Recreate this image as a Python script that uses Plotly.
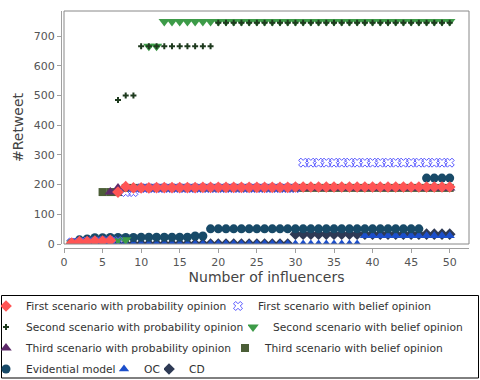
import plotly.graph_objects as go

# ─── Data ───────────────────────────────────────────────────────────────────
INFLUENCERS = list(range(1, 51))

FIRST_PROB = [3, 8, 8, 10, 10, 12, 175, 193, 189, 189,
              189, 190, 190, 190, 190, 190, 190, 191, 191, 191,
              191, 191, 191, 191, 191, 191, 191, 191, 191, 192,
              192, 192, 192, 192, 192, 192, 192, 192, 192, 192,
              192, 192, 192, 192, 192, 192, 192, 192, 192, 192]
FIRST_BELIEF = [5, 6, 8, 9, 10, 10, 10, 175, 175, 188,
                188, 188, 188, 188, 188, 188, 188, 188, 188, 188,
                188, 188, 188, 188, 188, 188, 188, 188, 188, 188,
                274, 274, 274, 274, 274, 274, 274, 274, 274, 274,
                274, 274, 274, 274, 274, 274, 274, 274, 274, 274]
SECOND_PROB = [4, 7, 9, 12, 14, 15, 485, 500, 500, 666,
               666, 666, 666, 666, 666, 666, 666, 666, 666, 745,
               745, 745, 745, 745, 745, 745, 745, 745, 745, 745,
               745, 745, 745, 745, 745, 745, 745, 745, 745, 745,
               745, 745, 745, 745, 745, 745, 745, 745, 745, 745]
SECOND_BELIEF = [3, 6, 8, 10, 11, 12, 13, 14, 189, 189,
                 666, 666, 750, 750, 750, 750, 750, 750, 750, 750,
                 750, 750, 750, 750, 750, 750, 750, 750, 750, 750,
                 750, 750, 750, 750, 750, 750, 750, 750, 750, 750,
                 750, 750, 750, 750, 750, 750, 750, 750, 750, 750]
THIRD_PROB = [2, 5, 7, 9, 11, 175, 189, 189, 189, 189,
              189, 189, 189, 189, 189, 189, 189, 189, 189, 189,
              189, 189, 189, 189, 189, 189, 189, 189, 189, 189,
              189, 189, 189, 189, 189, 189, 189, 189, 189, 189,
              189, 189, 189, 189, 189, 189, 189, 189, 189, 189]
THIRD_BELIEF = [2, 5, 7, 9, 175, 175, 175, 189, 189, 189,
                189, 189, 189, 189, 189, 189, 189, 189, 189, 189,
                189, 189, 189, 189, 189, 189, 189, 189, 189, 189,
                189, 189, 189, 189, 189, 189, 189, 189, 189, 189,
                189, 189, 189, 189, 189, 189, 189, 189, 189, 189]
EVIDENTIAL = [4, 14, 17, 21, 21, 22, 22, 22, 22, 23,
              23, 23, 23, 23, 23, 23, 27, 27, 51, 51,
              51, 51, 51, 51, 51, 51, 51, 51, 51, 51,
              51, 51, 51, 51, 51, 51, 51, 51, 51, 51,
              51, 51, 51, 51, 51, 51, 222, 222, 222, 222]
OC = [0, 0, 0, 0, 0, 0, 0, 0, 0, 0,
      0, 0, 0, 0, 0, 0, 0, 0, 0, 0,
      0, 0, 0, 0, 0, 0, 0, 0, 0, 0,
      0, 0, 0, 0, 0, 0, 0, 0, 28, 28,
      28, 28, 28, 28, 28, 28, 28, 28, 28, 28]
CD = [0, 0, 0, 0, 0, 0, 0, 0, 0, 0,
      0, 0, 0, 0, 0, 0, 0, 0, 0, 0,
      0, 0, 0, 0, 0, 0, 0, 0, 0, 33,
      33, 33, 33, 33, 33, 33, 33, 33, 33, 33,
      33, 33, 33, 33, 33, 33, 33, 33, 33, 33]

X_TICKS = [0, 5, 10, 15, 20, 25, 30, 35, 40, 45, 50]
Y_TICKS = [0, 100, 200, 300, 400, 500, 600, 700]

# ─── Page geometry (pixels) ────────────────────────────────────────────────
W, H = 480, 380
M_L, M_R, M_T, M_B = 61, 11, 11, 132
PW, PH = W - M_L - M_R, H - M_T - M_B
FONT = "DejaVu Sans, Verdana, sans-serif"


def px_x(px):
    return (px - M_L) / PW


def px_y(py):
    return (H - M_B - py) / PH


# name, values, symbol, size, colour, legend spot (symbol x, row y)
SERIES = [
    ("First scenario with probability opinion", FIRST_PROB, "diamond", 9, "#FF5555", (5, 306)),
    ("First scenario with belief opinion", FIRST_BELIEF, "x-open", 8, "#5555FF", (237, 306)),
    ("Second scenario with probability opinion", SECOND_PROB, "cross", 5, "#1E3A1E", (5, 327)),
    ("Second scenario with belief opinion", SECOND_BELIEF, "triangle-down", 10, "#3D9B48", (252, 327)),
    ("Third scenario with probability opinion", THIRD_PROB, "triangle-up", 10, "#5E2A6A", (5, 348)),
    ("Third scenario with belief opinion", THIRD_BELIEF, "square", 8, "#4B5E37", (244, 348)),
    ("Evidential model", EVIDENTIAL, "circle", 9, "#184A68", (5, 369)),
    ("OC", OC, "triangle-up", 9, "#1C4FCB", (123, 369)),
    ("CD", CD, "diamond", 9, "#2E3A55", (168, 369)),
]

fig = go.Figure()
legends = {}
# first series is painted last (sits on top), as in the original
for i in reversed(range(len(SERIES))):
    name, vals, sym, size, col, (lx, ly) = SERIES[i]
    lname = "legend" if i == 0 else f"legend{i + 1}"
    fig.add_trace(go.Scatter(
        x=INFLUENCERS, y=vals, name=name, mode="markers",
        marker=dict(symbol=sym, size=size, color=col,
                    line=dict(width=1 if sym.endswith("open") else 0, color=col)),
        legend=lname,
    ))
    legends[lname] = dict(
        x=px_x(lx - 4), y=px_y(ly), xanchor="left", yanchor="middle",
        orientation="h", indentation=-15, bgcolor="rgba(0,0,0,0)",
        borderwidth=0, font=dict(family=FONT, size=10.7, color="#333333"),
    )

axis_common = dict(
    showgrid=False, zeroline=False, showline=True, linecolor="#A0A0A0",
    ticks="outside", ticklen=4, tickcolor="#A0A0A0",
    tickfont=dict(family=FONT, size=11, color="#555555"),
    anchor="free", position=0,
)

fig.update_layout(
    width=W, height=H, showlegend=True,
    margin=dict(l=M_L, r=M_R, t=M_T, b=M_B, autoexpand=False),
    paper_bgcolor="white", plot_bgcolor="white",
    xaxis=dict(axis_common, domain=[3 / PW, 1], range=[0, 52.5], tickvals=X_TICKS,
               title=dict(text="Number of influencers", standoff=3,
                          font=dict(family=FONT, size=14, color="#444444"))),
    yaxis=dict(axis_common, domain=[4 / PH, 1], range=[0, 785], tickvals=Y_TICKS,
               title=dict(text="#Retweet", standoff=5,
                          font=dict(family=FONT, size=14, color="#444444"))),
    shapes=[
        dict(type="rect", xref="x domain", yref="y domain", x0=0, x1=1, y0=0, y1=1,
             line=dict(color="#888888", width=1), layer="above"),
        dict(type="rect", xref="paper", yref="paper",
             x0=px_x(1.5), x1=px_x(478.5), y0=px_y(378), y1=px_y(295.5),
             line=dict(color="#000000", width=1)),
    ],
    **legends,
)

# the page body has a default 8px margin, drop it so the figure sits at 0,0
fig.write_html("out.html", config={"displayModeBar": False},
               post_script="document.body.style.margin = '0px';")
